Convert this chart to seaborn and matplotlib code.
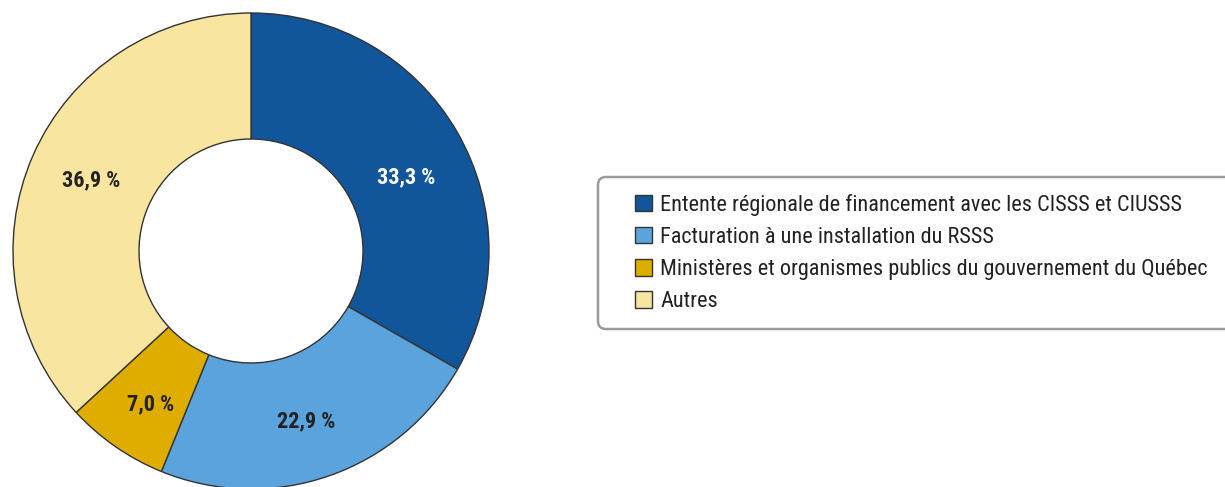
import matplotlib
matplotlib.use("Agg")
import matplotlib.pyplot as plt
from matplotlib import font_manager
from matplotlib.patches import FancyBboxPatch
import seaborn as sns

# Répartition des revenus (en %)
categories = [
    "Entente régionale de financement avec les CISSS et CIUSSS",
    "Facturation à une installation du RSSS",
    "Ministères et organismes publics du gouvernement du Québec",
    "Autres",
]
values = [33.3, 22.9, 7.0, 36.9]
colors = ["#11569a", "#5ba3dc", "#dead00", "#f8e6a0"]
label_colors = ["white", "#222222", "#222222", "#222222"]

sns.set_theme(style="white")
names = {f.name for f in font_manager.fontManager.ttflist}
family = [f for f in ["Roboto Condensed", "Liberation Sans Narrow", "Roboto"] if f in names]
plt.rcParams["font.family"] = family + ["DejaVu Sans"]

W, H = 1225, 487
fig = plt.figure(figsize=(W / 100, H / 100), dpi=100)
ax = fig.add_axes([0, 0, 1, 1])

wedges, _, autotexts = ax.pie(
    values,
    colors=colors,
    startangle=90,
    counterclock=False,
    center=(251, H - 251),
    radius=238,
    autopct=lambda p: f"{p:.1f} %".replace(".", ","),
    pctdistance=0.74,
    wedgeprops=dict(width=126, edgecolor="#333333", linewidth=1),
    frame=True,
)
for t, c in zip(autotexts, label_colors):
    t.set_color(c)
    t.set_fontsize(16)
    t.set_fontweight("bold")
# nudge labels slightly, as in the original
for t, (dx, dy) in zip(autotexts, [(3, -15), (-2, -4), (0, -9), (2, 0)]):
    x, y = t.get_position()
    t.set_position((x + dx, y + dy))

ax.set_xlim(0, W)
ax.set_ylim(0, H)
ax.set_aspect("equal")
ax.axis("off")

# rounded legend box, running past the right edge
box = FancyBboxPatch((598, H - 329), 660, 152,
                     boxstyle="round,pad=0,rounding_size=8",
                     facecolor="white", edgecolor="#9a9a9a", linewidth=1.8,
                     transform=ax.transData, clip_on=False, zorder=3)
ax.add_patch(box)

leg = fig.legend(
    wedges, categories,
    loc="center left",
    bbox_to_anchor=(635 / W, 1 - 253 / H),
    fontsize=16,
    frameon=False,
    handlelength=0.77,
    handleheight=0.77,
    handletextpad=0.36,
    labelspacing=0.5,
    borderpad=0,
    borderaxespad=0,
)
leg.set_zorder(4)
for h in leg.legend_handles:
    h.set_edgecolor("#333333")
    h.set_linewidth(1)
for t in leg.get_texts():
    t.set_color("#222222")

fig.savefig("out.png", dpi=100)
